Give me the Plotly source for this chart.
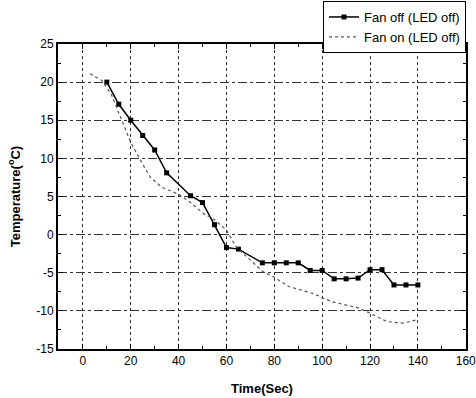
import plotly.graph_objects as go

# Fan off (LED off)
t_off = [10, 15, 20, 25, 30, 35, 45, 50, 55, 60, 65, 75, 80, 85, 90, 95, 100, 105, 110, 115, 120, 125, 130, 135, 140]
temp_off = [20.0, 17.1, 15.0, 13.0, 11.1, 8.1, 5.1, 4.2, 1.3, -1.7, -1.9, -3.7, -3.7, -3.7, -3.7, -4.7, -4.7, -5.8, -5.8, -5.7, -4.6, -4.6, -6.6, -6.6, -6.6]

# Fan on (LED off)
t_on = [3, 8, 12, 16, 20, 24, 28, 33, 40, 45, 51, 54, 60, 64, 69, 75, 80, 86, 96, 104, 115, 120, 127, 134, 139]
temp_on = [21.1, 20.2, 18.3, 15.3, 12.1, 9.8, 7.6, 6.2, 5.3, 4.2, 2.6, 2.2, 0.6, -1.6, -3.0, -4.8, -5.6, -6.8, -7.7, -8.8, -9.6, -10.3, -11.4, -11.6, -11.2]

x_ticks = [0, 20, 40, 60, 80, 100, 120, 140, 160]
y_ticks = [-15, -10, -5, 0, 5, 10, 15, 20, 25]

fig = go.Figure()
fig.add_trace(go.Scatter(
    x=t_off, y=temp_off, mode="lines+markers", name="Fan off (LED off)",
    line=dict(color="black", width=1.5),
    marker=dict(symbol="square", size=5, color="black"),
))
fig.add_trace(go.Scatter(
    x=t_on, y=temp_on, mode="lines", name="Fan on (LED off)",
    line=dict(color="#555555", width=1.2, dash="dot"),
))

font_family = "Arial, Liberation Sans, sans-serif"

fig.update_layout(
    width=476, height=398,
    margin=dict(l=58, r=10, t=44, b=49, autoexpand=False),
    paper_bgcolor="white", plot_bgcolor="white",
    font=dict(family=font_family, color="black"),
    showlegend=True,
    legend=dict(
        x=1.0, xanchor="right", y=(349 - 1) / 305, yanchor="top",
        bordercolor="black", borderwidth=1,
        font=dict(size=13, family=font_family),
        tracegroupgap=0, itemwidth=30,
        bgcolor="white",
    ),
    xaxis=dict(
        range=[-10.4, 160.1], tickvals=x_ticks, ticktext=[str(v) for v in x_ticks],
        ticklabeloverflow="allow",
        showline=True, linecolor="black", linewidth=2, mirror="ticks",
        ticks="inside", ticklen=5, tickwidth=1, tickcolor="black",
        minor=dict(dtick=10, ticks="inside", ticklen=3, tickcolor="black", showgrid=False),
        showgrid=True, gridcolor="#333333", gridwidth=1, griddash="dot",
        zeroline=False,
        tickfont=dict(size=12, family=font_family),
        title=dict(text="<b>Time(Sec)</b>", font=dict(size=13, family=font_family), standoff=16),
    ),
    yaxis=dict(
        range=[-15, 25], tickvals=y_ticks, ticktext=[str(v) for v in y_ticks],
        showline=True, linecolor="black", linewidth=2, mirror="ticks",
        ticks="inside", ticklen=5, tickwidth=1, tickcolor="black",
        minor=dict(dtick=2.5, ticks="inside", ticklen=3, tickcolor="black", showgrid=False),
        showgrid=True, gridcolor="#333333", gridwidth=1, griddash="dashdot",
        zeroline=False,
        tickfont=dict(size=12, family=font_family),
        title=dict(text="<b>Temperature(<sup>o</sup>C)</b>", font=dict(size=13, family=font_family), standoff=13),
    ),
)

fig.write_html(
    "out.html",
    config={"displayModeBar": False},
    post_script="document.body.style.margin='0px';document.body.style.overflow='hidden';",
)
